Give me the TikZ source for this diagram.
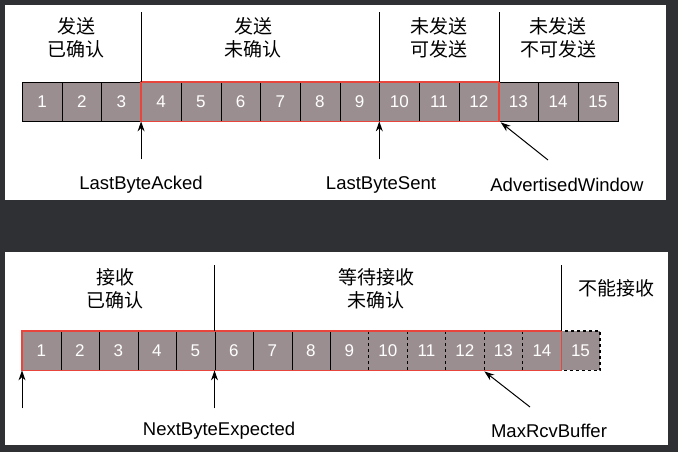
\documentclass[tikz,border=0pt]{standalone}
\usepackage{fontspec}
\usetikzlibrary{calc,arrows.meta}
\setmainfont{Liberation Sans}
\newfontfamily\cjk{Noto Sans CJK SC}
\begin{document}
\begin{tikzpicture}[x=1pt,y=-1pt,
  cellbox/.style={draw=black,fill=cellgray,minimum width=#1,minimum height=39pt,inner sep=0pt,text=white,font=\fontsize{17}{17}\selectfont,anchor=north west},
  lbl/.style={font=\fontsize{18.5}{18.5}\selectfont},
  hdr/.style={font=\cjk\fontsize{19}{23}\selectfont,align=center},
  win/.style={draw=winred,line width=1.8pt},
  arr/.style={-{Stealth[length=10pt,width=7pt]},line width=1pt}]
\definecolor{cellgray}{HTML}{9B8E90}
\definecolor{winred}{HTML}{E8453C}
\definecolor{bg}{HTML}{2E3033}
\useasboundingbox (0,0) rectangle (678,452);
\fill[bg] (0,0) rectangle (678,452);
\fill[white] (5,5) rectangle (666,200);
\fill[white] (5,252) rectangle (668,445);
% top row
\foreach \i in {1,...,15}{
  \node[cellbox=39.7pt] (t\i) at ({22+(\i-1)*39.7},82) {\i};
}
\draw[win] (t4.north west) rectangle (t12.south east);
\draw (t4.north west) -- ++(0,-70);
\draw (t10.north west) -- ++(0,-70);
\draw (t12.north east) -- ++(0,-70);
\node[hdr] (h1) at (76,38) {发送\\已确认};
\node[hdr] (h2) at (253,38) {发送\\未确认};
\node[hdr] (h3) at (439,38) {未发送\\可发送};
\node[hdr] (h4) at (558,38) {未发送\\不可发送};
\coordinate (a1) at ($(t4.south west)+(0,38)$);
\coordinate (a2) at ($(t10.south west)+(0,38)$);
\coordinate (a3) at (548,160);
\draw[arr] (a1) -- (t4.south west);
\draw[arr] (a2) -- (t10.south west);
\draw[arr] (a3) -- ($(t12.south east)+(2,1)$);
\node[lbl] (l1) at (141,185) {LastByteAcked};
\node[lbl] (l2) at (381,185) {LastByteSent};
\node[lbl] (l3) at (567,185) {AdvertisedWindow};
% bottom row
\foreach \i in {1,...,14}{
  \node[cellbox=38.5pt] (b\i) at ({22+(\i-1)*38.5},331) {\i};
}
\node[cellbox=38.5pt,draw=none] (b15) at ({22+14*38.5},331) {15};
\draw[dashed,line width=1.4pt] (b15.north west) rectangle (b15.south east);
\fill[cellgray] ([xshift=0.5pt,yshift=-0.5pt]b10.north west) rectangle ([xshift=-0.5pt,yshift=0.5pt]b14.south east);
\foreach \i in {10,...,14}{
  \node[text=white,font=\fontsize{17}{17}\selectfont] at (b\i) {\i};
  \draw[dashed,line width=1pt] (b\i.north west) -- (b\i.south west);
}
\draw[win] (b1.north west) rectangle (b14.south east);
\draw (b6.north west) -- ++(0,-66);
\draw (b14.north east) -- ++(0,-66);
\node[hdr] (g1) at (115,289) {接收\\已确认};
\node[hdr] (g2) at (376,289) {等待接收\\未确认};
\node[hdr] (g3) at (616,288) {不能接收};
\coordinate (c1) at ($(b1.south west)+(0,38)$);
\coordinate (c2) at ($(b6.south west)+(0,38)$);
\coordinate (c3) at (530,407);
\draw[arr] (c1) -- (b1.south west);
\draw[arr] (c2) -- (b6.south west);
\draw[arr] (c3) -- ($(b12.south east)+(0,1)$);
\node[lbl] (m1) at (219,431) {NextByteExpected};
\node[lbl] (m2) at (549,431) {MaxRcvBuffer};
\end{tikzpicture}
\end{document}
